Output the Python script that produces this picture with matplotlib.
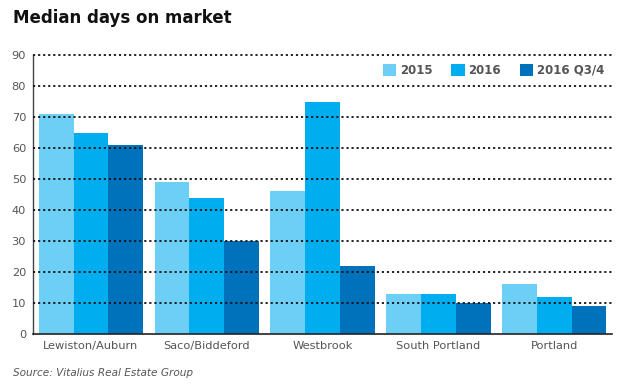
import matplotlib
matplotlib.use("Agg")
import matplotlib.pyplot as plt
import numpy as np

categories = ["Lewiston/Auburn", "Saco/Biddeford", "Westbrook", "South Portland", "Portland"]
series_names = ["2015", "2016", "2016 Q3/4"]
v2015 = [71, 49, 46, 13, 16]
v2016 = [65, 44, 75, 13, 12]
vq34 = [61, 30, 22, 10, 9]
colors = ["#6DCFF6", "#00AEEF", "#0072BC"]

plt.rcParams['font.family'] = ['DejaVu Sans']
fig = plt.figure(figsize=(6.24, 3.9), dpi=100)
ax = fig.add_axes([0.053, 0.1436, 0.928, 0.715])

x = np.arange(len(categories))
w = 0.3
for i, (vals, name, c) in enumerate(zip([v2015, v2016, vq34], series_names, colors)):
    ax.bar(x + (i - 1) * w, vals, width=w, color=c, label=name, zorder=1)

ax.set_xlim(-0.5, len(categories) - 0.5)
ax.set_ylim(0, 90)
ax.set_yticks(range(0, 91, 10))
ax.set_xticks(x)
ax.set_xticklabels(categories)
ax.tick_params(axis='both', colors='#555555', labelsize=8.2, length=0)
ax.tick_params(axis='x', pad=5)
ax.tick_params(axis='y', pad=5)
for t in range(10, 91, 10):
    ax.axhline(t, color='#111111', linestyle=(0, (1.2, 1.6)), linewidth=1.3, zorder=3, clip_on=False)
for s in ['top', 'right']:
    ax.spines[s].set_visible(False)
ax.spines['left'].set_color('#444444')
ax.spines['bottom'].set_color('#222222')
ax.spines['left'].set_linewidth(1.0)
ax.spines['bottom'].set_linewidth(1.2)

leg = ax.legend(loc='center right', bbox_to_anchor=(1.005, 0.946), ncol=3, frameon=False,
                handlelength=1.15, handleheight=1.15, handletextpad=0.3, columnspacing=1.6,
                prop={'weight': 'bold', 'size': 8.5})
for t in leg.get_texts():
    t.set_color('#555555')

fig.text(0.021, 0.954, "Median days on market", fontsize=12, fontweight='bold', color='#111111', va='center')
fig.text(0.021, 0.043, "Source: Vitalius Real Estate Group", fontsize=7.6, style='italic', color='#555555', va='center')

fig.savefig("out.png", dpi=100)
